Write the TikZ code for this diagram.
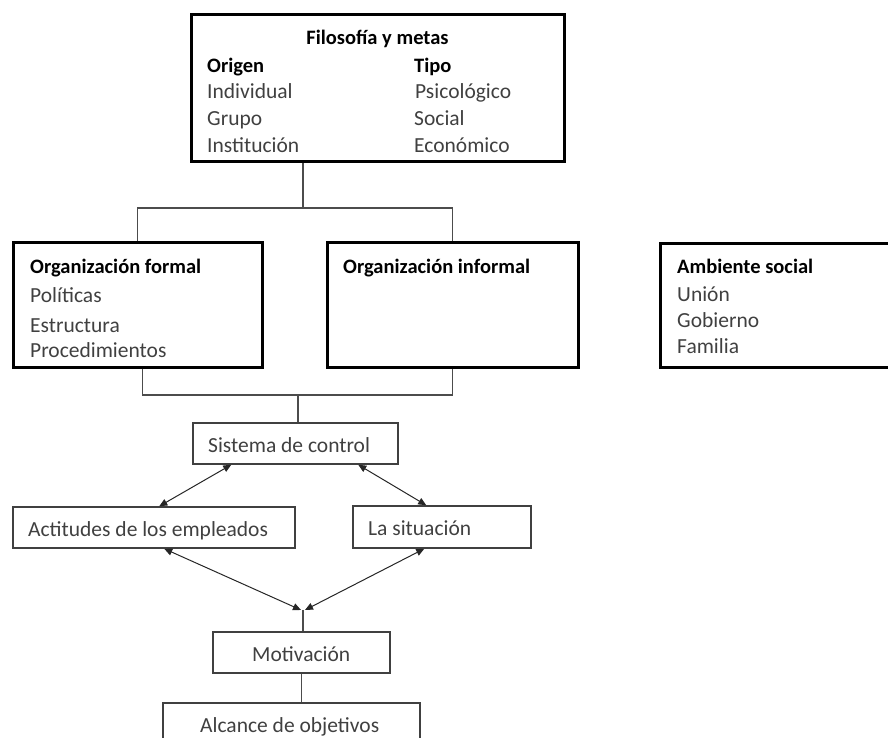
\documentclass[tikz,border=0pt]{standalone}
\usepackage{fontspec}
\setmainfont{Carlito}
\usepackage{tikz}
\usetikzlibrary{
  arrows.meta,
  calc,
  positioning
}

\begin{document}
\begin{tikzpicture}[
      x=1pt,y=-1pt,
      bigbox/.style={
         rectangle,
         line width=3pt,
         draw=black,
         inner sep=0pt
      },
      smallbox/.style={
         rectangle,
         line width=1.5pt,
         draw=black!75,
         inner sep=0pt
      },
      txt/.style={
         anchor=base west,
         inner sep=0pt,
         text=black!75,
         font=\fontsize{21.5}{24}\selectfont
      },
      hd/.style={txt,text=black,font=\fontsize{20.5}{24}\selectfont\bfseries},
      conn/.style={line width=1.5pt,draw=black!70},
      dbl/.style={{Triangle[length=8pt,width=7pt]}-{Triangle[length=8pt,width=7pt]},line width=1pt,draw=black!85},
      %text height=1.5ex,text depth=.25ex
    ]
    \useasboundingbox (0,0) rectangle (888,738);
    % boxes
    \node (filo) [bigbox, minimum width=373pt, minimum height=147pt] at (377.5,88.5) {};
    \node (formal) [bigbox, minimum width=249pt, minimum height=125pt] at (137.5,304.5) {};
    \node (informal) [bigbox, minimum width=251pt, minimum height=125pt] at (452.5,304.5) {};
    \node (amb) [bigbox, minimum width=235pt, minimum height=124pt] at (777.5,305) {};
    \node (sis) [smallbox, minimum width=205pt, minimum height=41pt] at (295.5,443.5) {};
    \node (act) [smallbox, minimum width=282pt, minimum height=41pt] at (154,527.5) {};
    \node (sit) [smallbox, minimum width=178pt, minimum height=42pt] at (442,527) {};
    \node (mot) [smallbox, minimum width=177pt, minimum height=41pt] at (301.5,652.5) {};
    \node (alc) [smallbox, minimum width=257pt, minimum height=42pt] at (291.5,724) {};
    % texts
    \node (filoT) [hd, anchor=base] at (377.5,45) {Filosofía y metas};
    \node (orig) [hd] at (207,73) {Origen};
    \node (ind) [txt] at (207,99) {Individual};
    \node (gru) [txt] at (207,126) {Grupo};
    \node (ins) [txt] at (207,153) {Institución};
    \node (tipo) [hd] at (414,73) {Tipo};
    \node (psi) [txt] at (415,99) {Psicológico};
    \node (soc) [txt] at (414,126) {Social};
    \node (eco) [txt] at (414,153) {Económico};
    \node (formalT) [hd] at (30,273) {Organización formal};
    \node (pol) [txt] at (30,302) {Políticas};
    \node (est) [txt] at (30,332) {Estructura};
    \node (pro) [txt] at (30,357) {Procedimientos};
    \node (informalT) [hd] at (343,273) {Organización informal};
    \node (ambT) [hd] at (677,273) {Ambiente social};
    \node (uni) [txt] at (677,301) {Unión};
    \node (gob) [txt] at (677,327) {Gobierno};
    \node (fam) [txt] at (677,353) {Familia};
    \node (sisT) [txt] at (208,452) {Sistema de control};
    \node (actT) [txt] at (28,536) {Actitudes de los empleados};
    \node (sitT) [txt] at (368,535) {La situación};
    \node (motT) [txt] at (252,661) {Motivación};
    \node (alcT) [txt] at (200,732) {Alcance de objetivos};
    % connectors
    \coordinate (split) at (303,208);
    \coordinate (merge) at (298,395);
    \coordinate (meet) at (303,610);
    \draw[conn] (filo.south -| split) -- (split);
    \draw[conn] (formal.north) |- (split) -| (informal.north);
    \draw[conn] ($(formal.south)+(5,0)$) |- (merge) -| (informal.south);
    \draw[conn] (merge) -- (sis.north -| merge);
    \draw[dbl] ($(sis.south west)+(39,0)$) -- ($(act.north west)+(147,0)$);
    \draw[dbl] ($(sis.south west)+(166,0)$) -- ($(sit.north west)+(74,0)$);
    \draw[dbl] ($(act.south west)+(152,0)$) -- ([xshift=-2pt]meet);
    \draw[dbl] ($(sit.south west)+(72,0)$) -- ([xshift=2pt]meet);
    \draw[conn] (meet) -- (mot.north -| meet);
    \draw[conn] (mot.south) -- (mot.south |- alc.north);
\end{tikzpicture}
\end{document}
